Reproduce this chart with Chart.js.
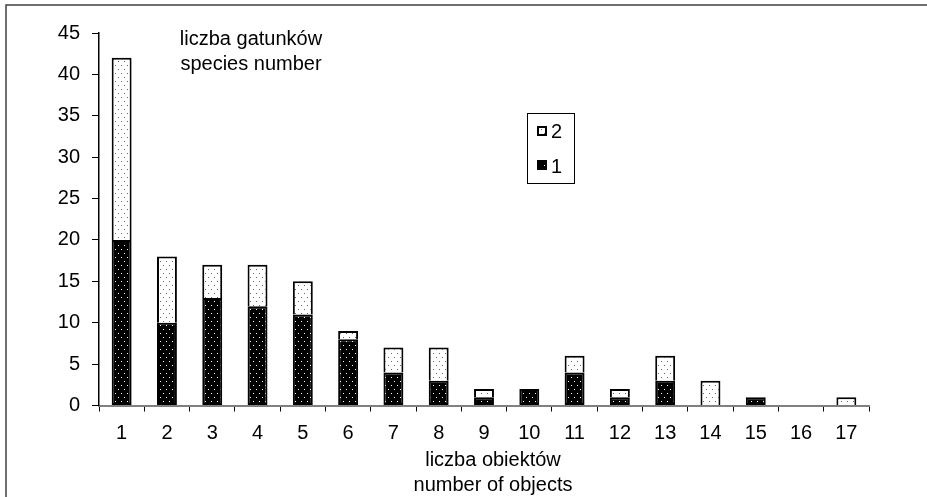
<!DOCTYPE html>
<html>
<head>
<meta charset="utf-8">
<script src="https://cdn.jsdelivr.net/npm/chart.js@4.4.0/dist/chart.umd.min.js"></script>
<style>
  html, body { margin: 0; padding: 0; background: #fff; }
  #wrap { position: relative; width: 927px; height: 497px; }
</style>
</head>
<body>
<div id="wrap"><canvas id="myChart" width="927" height="497"></canvas></div>
<script>
// number of objects (categories)
var categories = ['1','2','3','4','5','6','7','8','9','10','11','12','13','14','15','16','17'];
// series "1" - bottom, black dotted
var series1 = [20, 10, 13, 12, 11, 8, 4, 3, 1, 2, 4, 1, 3, 0, 1, 0, 0];
// series "2" - top, white dotted
var series2 = [22, 8, 4, 5, 4, 1, 3, 4, 1, 0, 2, 1, 3, 3, 0, 0, 1];
var yTicks = [0, 5, 10, 15, 20, 25, 30, 35, 40, 45];

var FONT = '"Liberation Sans", Arial, sans-serif';

// dot patterns like the old excel fills
function makePattern(bg, dot) {
    var c = document.createElement('canvas');
    c.width = 6;
    c.height = 8;
    var g = c.getContext('2d');
    g.fillStyle = bg;
    g.fillRect(0, 0, 6, 8);
    g.fillStyle = dot;
    g.fillRect(1, 1, 1, 1);
    g.fillRect(4, 5, 1, 1);
    return g.createPattern(c, 'repeat');
}
var ctx = document.getElementById('myChart');
var darkFill = makePattern('#000000', '#ffffff');
var lightFill = makePattern('#ffffff', '#666666');

// frame, note text, axis title and legend box drawn by hand
var extras = {
    id: 'extras',
    afterDraw: function(chart) {
        var g = chart.ctx;
        g.save();
        g.strokeStyle = '#404040';
        g.lineWidth = 1.5;
        g.beginPath();
        g.moveTo(6, 497);
        g.lineTo(6, 5);
        g.lineTo(927, 5);
        g.stroke();

        g.fillStyle = '#000';
        g.font = '20px ' + FONT;
        g.textAlign = 'center';
        g.textBaseline = 'middle';
        g.fillText('liczba gatunków', 251, 39);
        g.fillText('species number', 251, 64);
        g.fillText('liczba obiektów', 493, 460);
        g.fillText('number of objects', 493, 485);

        // legend
        g.lineWidth = 1;
        g.strokeStyle = '#000';
        g.strokeRect(527.5, 113.5, 47, 70);
        g.lineWidth = 2;
        g.fillStyle = lightFill;
        g.fillRect(538, 127, 8, 8);
        g.strokeRect(538, 127, 8, 8);
        g.fillStyle = darkFill;
        g.fillRect(538, 161, 8, 8);
        g.strokeRect(538, 161, 8, 8);
        g.fillStyle = '#000';
        g.font = '20px ' + FONT;
        g.textAlign = 'left';
        g.fillText('2', 551, 132);
        g.fillText('1', 551, 167);
        g.restore();
    }
};

function bw(c) {
    return c.raw === 0 ? 0 : 2;
}

var chart = new Chart(ctx, {
    type: 'bar',
    data: {
        labels: categories,
        datasets: [{
            label: '1',
            data: series1,
            backgroundColor: darkFill,
            borderColor: '#000',
            borderWidth: bw,
            borderSkipped: false
        }, {
            label: '2',
            data: series2,
            backgroundColor: lightFill,
            borderColor: '#000',
            borderWidth: bw,
            borderSkipped: 'start'
        }]
    },
    options: {
        responsive: false,
        animation: false,
        layout: { padding: { top: 33, right: 58, left: 0, bottom: 0 } },
        datasets: { bar: { categoryPercentage: 1, barPercentage: 0.44 } },
        plugins: { legend: { display: false }, tooltip: { enabled: false } },
        scales: {
            x: {
                stacked: true,
                grid: { drawOnChartArea: false, drawTicks: true, tickLength: 6, color: '#000', offset: true },
                border: { color: '#808080', width: 2 },
                ticks: { color: '#000', font: { family: FONT, size: 20 }, padding: 10, maxRotation: 0 },
                afterFit: function(s) { s.height = 497 - 405.5; }
            },
            y: {
                stacked: true,
                min: 0,
                max: 45,
                afterBuildTicks: function(s) {
                    s.ticks = yTicks.map(function(v) { return { value: v }; });
                },
                grid: { drawOnChartArea: false, drawTicks: true, tickLength: 7, color: '#000' },
                border: { color: '#000', width: 1.5 },
                ticks: { color: '#000', font: { family: FONT, size: 20 }, padding: 12 },
                afterFit: function(s) { s.width = 99; }
            }
        }
    },
    plugins: [extras]
});
</script>
</body>
</html>
